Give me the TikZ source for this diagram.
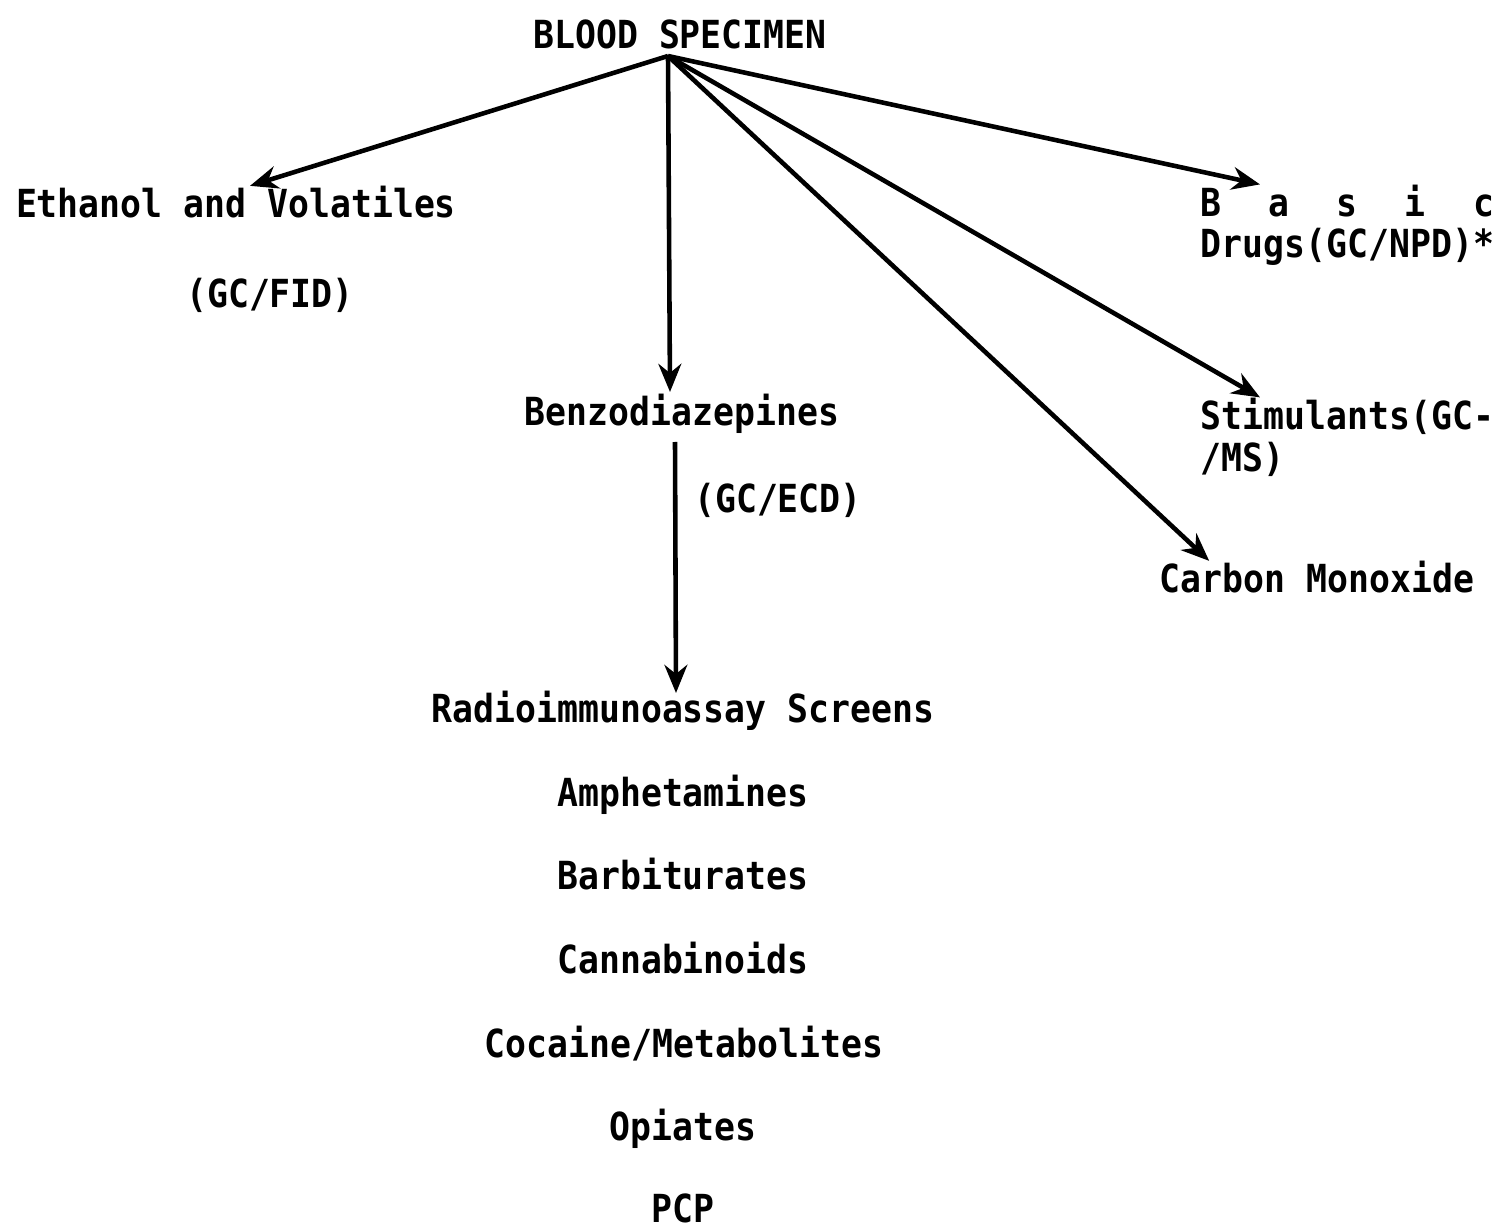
\documentclass[tikz,border=0pt]{standalone}
\usepackage{fontspec}
\usepackage{calc}
\usetikzlibrary{arrows.meta}
\newfontfamily\tw{DejaVu Sans Mono Bold}[FakeStretch=0.9]
\tikzset{
  lbl/.style={inner sep=0pt,anchor=base,font=\tw\fontsize{11}{11.8}\selectfont},
  arr/.style={-{Stealth[length=8pt,width=6.5pt]},draw=black,line width=1.3pt}
}

\begin{document}
\begin{tikzpicture}
\useasboundingbox (0,0) rectangle (15.03,-12.30);
\node[lbl] (0) at (6.80,-0.49) {BLOOD SPECIMEN};
\coordinate (1) at (6.68,-0.56);
\node[lbl] (2) at (2.36,-2.18) {Ethanol and Volatiles};
\node[lbl] (3) at (2.70,-3.08) {(GC/FID)};
\node[lbl] (4) at (6.82,-4.26) {Benzodiazepines};
\node[lbl] (5) at (7.78,-5.13) {(GC/ECD)};
\node[lbl,anchor=base west,align=left] (6) at (12.00,-2.58) {\makebox[\widthof{Drugs(GC/NPD)*}][s]{B\hfill a\hfill s\hfill i\hfill c}\\Drugs(GC/NPD)*};
\node[lbl,anchor=base west,align=left] (7) at (12.00,-4.71) {Stimulants(GC-\\/MS)};
\node[lbl] (8) at (13.17,-5.93) {Carbon Monoxide};
\node[lbl] (9) at (6.83,-7.22) {Radioimmunoassay Screens};
\node[lbl] (10) at (6.83,-8.06) {Amphetamines};
\node[lbl] (11) at (6.83,-8.90) {Barbiturates};
\node[lbl] (12) at (6.83,-9.73) {Cannabinoids};
\node[lbl] (13) at (6.84,-10.57) {Cocaine/Metabolites};
\node[lbl] (14) at (6.83,-11.40) {Opiates};
\node[lbl] (15) at (6.83,-12.22) {PCP};
\coordinate (16) at (6.70,-3.92);
\coordinate (17) at (6.75,-4.42);
\coordinate (18) at (6.76,-6.93);

\draw [arr] (1) -- ([xshift=0.14cm]2.north);
\draw [arr] (1) -- (16);
\draw [arr] (17) -- (18);
\draw [arr] (1) -- ([xshift=0.6cm]6.north west);
\draw [arr] (1) -- ([xshift=0.6cm]7.north west);
\draw [arr] (1) -- ([xshift=0.5cm]8.north west);
\end{tikzpicture}
\end{document}
